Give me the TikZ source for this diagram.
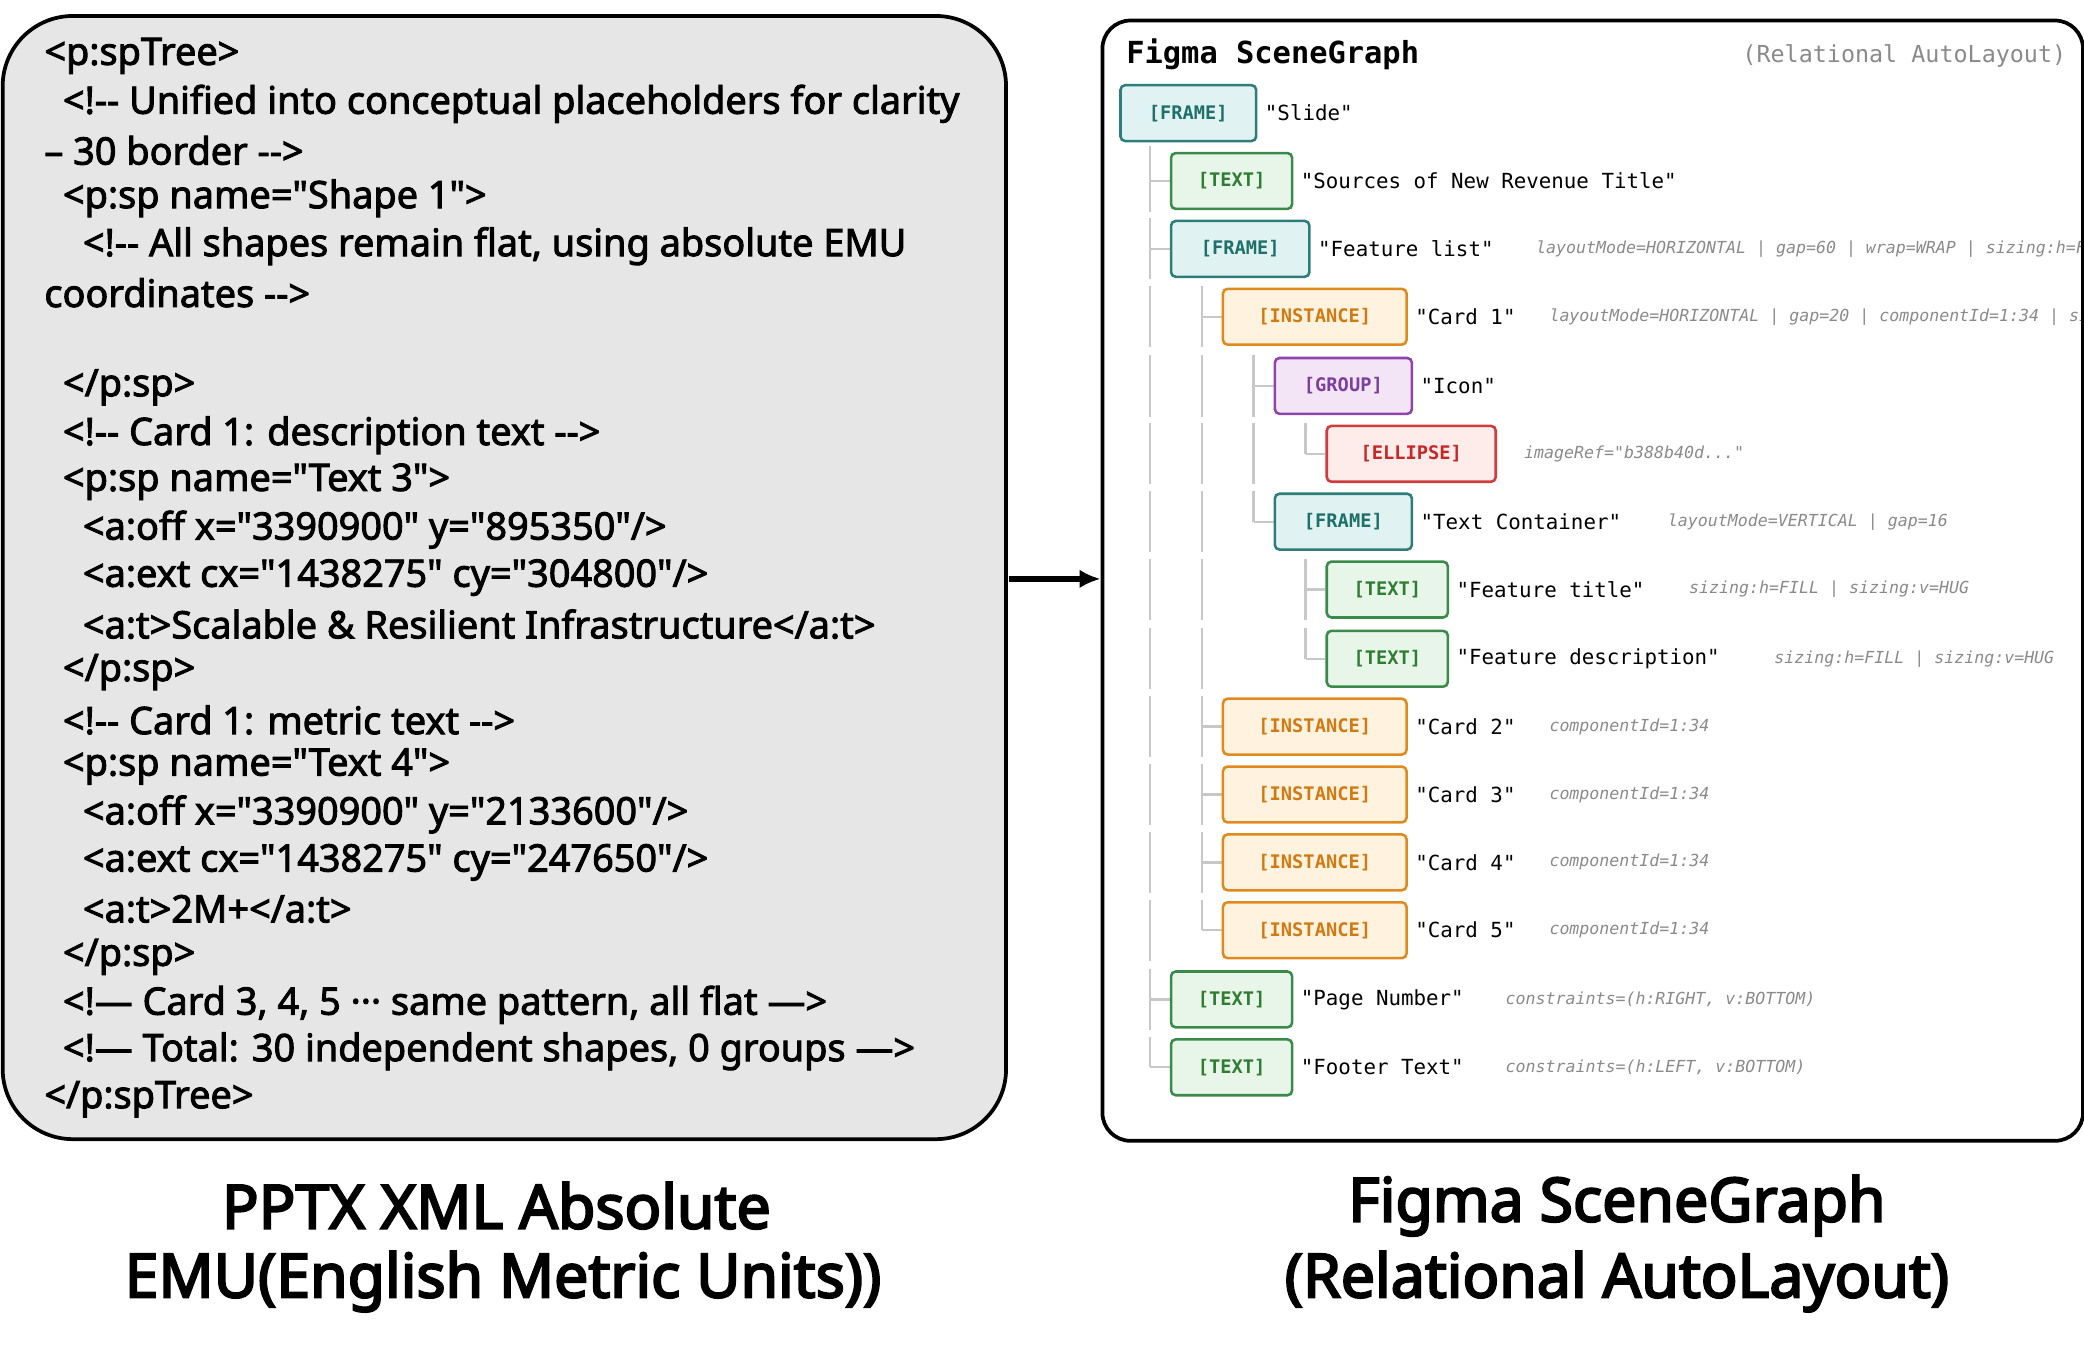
\documentclass[tikz,border=0pt]{standalone}
\usepackage{fontspec}
\usetikzlibrary{calc,arrows.meta}
\newfontfamily\xmlfont{Noto Sans}[FakeBold=2.4]
\newfontfamily\capfont{Noto Sans}[FakeBold=3.5]
\newfontfamily\monofont{DejaVu Sans Mono}
\definecolor{panelgray}{HTML}{E6E6E6}
\definecolor{treeline}{HTML}{C8C8C8}
\definecolor{notegray}{HTML}{8A8A8A}
\definecolor{frameline}{HTML}{2E7D7A}\definecolor{framefill}{HTML}{E0F2F1}\definecolor{frametext}{HTML}{1F6F6A}
\definecolor{textline}{HTML}{3A8A4A}\definecolor{textfill}{HTML}{E8F5E9}\definecolor{texttext}{HTML}{2E7D32}
\definecolor{instline}{HTML}{E08A1E}\definecolor{instfill}{HTML}{FFF3E0}\definecolor{insttext}{HTML}{D27A12}
\definecolor{groupline}{HTML}{8E44AD}\definecolor{groupfill}{HTML}{F3E5F5}\definecolor{grouptext}{HTML}{7B3F9E}
\definecolor{ellline}{HTML}{D03B3B}\definecolor{ellfill}{HTML}{FDECEA}\definecolor{elltext}{HTML}{C62828}
\tikzset{
  /tikz/.cd,
  tag/.style={draw,rounded corners=2pt,line width=1.1pt,minimum height=0.84cm,anchor=west,inner sep=0pt,
    font=\monofont\bfseries\fontsize{8}{9}\selectfont},
  frametag/.style={tag,draw=frameline,fill=framefill,text=frametext},
  texttag/.style={tag,draw=textline,fill=textfill,text=texttext,minimum width=1.82cm},
  insttag/.style={tag,draw=instline,fill=instfill,text=insttext,minimum width=2.76cm},
  grouptag/.style={tag,draw=groupline,fill=groupfill,text=grouptext,minimum width=2.06cm},
  elltag/.style={tag,draw=ellline,fill=ellfill,text=elltext,minimum width=2.54cm},
  label/.style={anchor=west,inner sep=0pt,xshift=3,font=\monofont\fontsize{8.9}{10}\selectfont},
  note/.style={anchor=west,inner sep=0pt,text=notegray,font=\monofont\itshape\fontsize{7.1}{8}\selectfont},
  xml/.style={anchor=west,inner sep=0pt,font=\xmlfont\fontsize{16.2}{19}\selectfont},
  caption/.style={font=\capfont\fontsize{26}{30}\selectfont},
  branch/.style={treeline,line width=1pt}
}
\newcommand{\fullseg}[2]{\draw[branch] (#1,#2-23) -- (#1,#2+23);}
\newcommand{\halfseg}[2]{\draw[branch] (#1,#2-23) -- (#1,#2);}
\begin{document}
\begin{tikzpicture}[x=0.02cm,y=-0.02cm]
  \useasboundingbox (0,0) rectangle (1566,1029);

  % left panel: flat xml
  \draw[line width=1.6pt,fill=panelgray,rounded corners=30] (2,12) rectangle (756,856);
  \node[xml] (x1) at (33,42) {<p:spTree>};
  \node[xml] at (47,78) {<!-- Unified into conceptual placeholders for clarity};
  \node[xml] at (33,113) {– 30 border -->};
  \node[xml] at (47,149) {<p:sp name="Shape 1">};
  \node[xml] at (62,185) {<!-- All shapes remain flat, using absolute EMU};
  \node[xml] at (33,220) {coordinates -->};
  \node[xml] at (47,291) {</p:sp>};
  \node[xml] at (47,327) {<!-- Card 1: description text -->};
  \node[xml] at (47,362) {<p:sp name="Text 3">};
  \node[xml] at (62,398) {<a:off x="3390900" y="895350"/>};
  \node[xml] at (62,434) {<a:ext cx="1438275" cy="304800"/>};
  \node[xml] at (62,469) {<a:t>Scalable \& Resilient Infrastructure</a:t>};
  \node[xml] at (47,505) {</p:sp>};
  \node[xml] at (47,541) {<!-- Card 1: metric text -->};
  \node[xml] at (47,576) {<p:sp name="Text 4">};
  \node[xml] at (62,612) {<a:off x="3390900" y="2133600"/>};
  \node[xml] at (62,648) {<a:ext cx="1438275" cy="247650"/>};
  \node[xml] at (62,683) {<a:t>2M+</a:t>};
  \node[xml] at (47,719) {</p:sp>};
  \node[xml] at (47,755) {<!— Card 3, 4, 5 ··· same pattern, all flat —>};
  \node[xml] at (47,790) {<!— Total: 30 independent shapes, 0 groups —>};
  \node[xml] at (33,826) {</p:spTree>};

  % right panel: scene graph
  \node[draw,line width=1.6pt,rounded corners=12,minimum width=14.74cm,minimum height=16.84cm,anchor=north west,inner sep=0pt]
    (panel) at (827,14) {};
  \draw[line width=2.4pt,-{Latex[length=9pt,width=8pt]}] (758,435) -- (panel.west |- 0,435);
  \node[anchor=west,inner sep=0pt,font=\monofont\bfseries\fontsize{13}{15}\selectfont] (title) at (846,41) {Figma SceneGraph};
  \node[anchor=east,inner sep=0pt,text=notegray,font=\monofont\fontsize{10}{12}\selectfont] (subtitle) at (1553,42) {(Relational AutoLayout)};

  % tree lines
  \draw[branch] (864,110) -- (864,136) -- (879,136); \fullseg{864}{136}
  \fullseg{864}{187} \draw[branch] (864,187) -- (879,187);
  \fullseg{864}{238} \fullseg{903}{238} \draw[branch] (903,238) -- (918,238);
  \fullseg{864}{290} \fullseg{903}{290} \fullseg{942}{290} \draw[branch] (942,290) -- (957,290);
  \fullseg{864}{341} \fullseg{903}{341} \fullseg{942}{341} \halfseg{981}{341} \draw[branch] (981,341) -- (996,341);
  \fullseg{864}{392} \fullseg{903}{392} \halfseg{942}{392} \draw[branch] (942,392) -- (957,392);
  \fullseg{864}{443} \fullseg{903}{443} \fullseg{981}{443} \draw[branch] (981,443) -- (996,443);
  \fullseg{864}{495} \fullseg{903}{495} \halfseg{981}{495} \draw[branch] (981,495) -- (996,495);
  \foreach \y in {546,597,648} {\fullseg{864}{\y} \fullseg{903}{\y} \draw[branch] (903,\y) -- (918,\y);}
  \fullseg{864}{699} \halfseg{903}{699} \draw[branch] (903,699) -- (918,699);
  \fullseg{864}{751} \draw[branch] (864,751) -- (879,751);
  \halfseg{864}{802} \draw[branch] (864,802) -- (879,802);

  % nodes
  \node[frametag,minimum width=2.04cm] (slide) at (841,85) {[FRAME]};
  \node[label] (slidelbl) at (slide.east) {"Slide"};
  \node[texttag] (srctitle) at (879,136) {[TEXT]};
  \node[label] at (srctitle.east) {"Sources of New Revenue Title"};
  \node[frametag,minimum width=2.08cm] (featlist) at (879,187) {[FRAME]};
  \node[label] at (featlist.east) {"Feature list"};
  \node[insttag] (card1) at (918,238) {[INSTANCE]};
  \node[label] at (card1.east) {"Card 1"};
  \node[grouptag] (icon) at (957,290) {[GROUP]};
  \node[label] at (icon.east) {"Icon"};
  \node[elltag] (ellipse) at (996,341) {[ELLIPSE]};
  \node[frametag,minimum width=2.06cm] (textbox) at (957,392) {[FRAME]};
  \node[label] at (textbox.east) {"Text Container"};
  \node[texttag] (ftitle) at (996,443) {[TEXT]};
  \node[label] at (ftitle.east) {"Feature title"};
  \node[texttag] (fdesc) at (996,495) {[TEXT]};
  \node[label] at (fdesc.east) {"Feature description"};
  \node[insttag] (card2) at (918,546) {[INSTANCE]};
  \node[label] at (card2.east) {"Card 2"};
  \node[insttag] (card3) at (918,597) {[INSTANCE]};
  \node[label] at (card3.east) {"Card 3"};
  \node[insttag] (card4) at (918,648) {[INSTANCE]};
  \node[label] at (card4.east) {"Card 4"};
  \node[insttag] (card5) at (918,699) {[INSTANCE]};
  \node[label] at (card5.east) {"Card 5"};
  \node[texttag] (pagenum) at (879,751) {[TEXT]};
  \node[label] at (pagenum.east) {"Page Number"};
  \node[texttag] (footer) at (879,802) {[TEXT]};
  \node[label] at (footer.east) {"Footer Text"};

  % notes, clipped at the panel edge
  \begin{scope}
    \clip (827,14) rectangle (1563,856);
    \node[note] at (1154,187) {layoutMode=HORIZONTAL | gap=60 | wrap=WRAP | sizing:h=FILL};
    \node[note] at (1164,238) {layoutMode=HORIZONTAL | gap=20 | componentId=1:34 | sizing};
    \node[note] at (1145,341) {imageRef="b388b40d..."};
    \node[note] at (1253,392) {layoutMode=VERTICAL | gap=16};
    \node[note] at (1269,443) {sizing:h=FILL | sizing:v=HUG};
    \node[note] at (1333,495) {sizing:h=FILL | sizing:v=HUG};
    \foreach \y in {546,597,648,699} {\node[note] at (1164,\y) {componentId=1:34};}
    \node[note] at (1131,751) {constraints=(h:RIGHT, v:BOTTOM)};
    \node[note] at (1131,802) {constraints=(h:LEFT, v:BOTTOM)};
  \end{scope}

  % captions
  \node[caption] (capleft) at (373,906) {PPTX XML Absolute};
  \node[caption] at (378,963) {EMU(English Metric Units))};
  \node[caption] (capright) at (1215,906) {Figma SceneGraph};
  \node[caption] at (1215,963) {(Relational AutoLayout)};
\end{tikzpicture}
\end{document}
